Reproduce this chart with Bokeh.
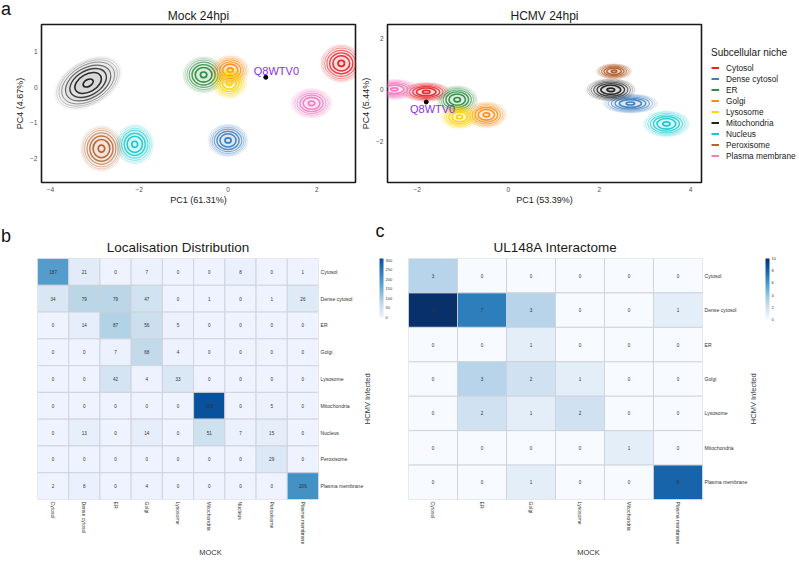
import math
from bokeh.plotting import figure
from bokeh.models import (ColumnDataSource, FactorRange, Range1d, LinearColorMapper, ColorBar,
                          FixedTicker, Legend, LegendItem, Label, CategoricalAxis, Div)
from bokeh.layouts import row, column
from bokeh.palettes import Blues256, Blues5
from bokeh.transform import transform
from bokeh.embed import file_html
from bokeh.resources import INLINE
from bokeh.core.properties import value

FONT = "Liberation Sans"

# ---------------- data ----------------
niches = ["Cytosol", "Dense cytosol", "ER", "Golgi", "Lysosome", "Mitochondria",
          "Nucleus", "Peroxisome", "Plasma membrane"]
niche_colors = ["#E8262A", "#3A7FC1", "#2E8B3F", "#FF8C1A", "#FFD400", "#222222",
                "#17C8D0", "#B4612E", "#F27BC1"]

# Mock 24hpi cluster centres / spreads (PC1, PC4)
mock_cx = [2.55, 0.0, -0.55, 0.05, 0.03, -3.15, -2.1, -2.85, 1.88]
mock_cy = [0.67, -1.49, 0.35, 0.48, 0.12, 0.12, -1.6, -1.72, -0.45]
mock_sx = [0.45, 0.43, 0.45, 0.41, 0.38, 0.77, 0.41, 0.45, 0.45]
mock_sy = [0.51, 0.44, 0.49, 0.40, 0.42, 0.59, 0.54, 0.61, 0.40]
mock_angle = [0, 0, 0, 0, 0, 0.52, 0, 0, 0]
mock_xticks = [-4, -2, 0, 2]
mock_yticks = [-2, -1, 0, 1]
mock_q = (0.85, 0.28)
mock_q_label = (0.58, 0.47)

# HCMV 24hpi cluster centres / spreads
hcmv_cx = [-1.8, 2.68, -1.12, -0.48, -1.07, 2.25, 3.47, 2.32, -2.5]
hcmv_cy = [-0.08, -0.53, -0.38, -0.97, -1.05, 0.0, -1.32, 0.72, 0.02]
hcmv_sx = [0.51, 0.58, 0.43, 0.43, 0.40, 0.52, 0.49, 0.38, 0.50]
hcmv_sy = [0.36, 0.36, 0.52, 0.49, 0.45, 0.42, 0.49, 0.29, 0.38]
hcmv_angle = [0, 0, 0, 0, 0, 0, 0, 0, 0]
hcmv_xticks = [-2, 0, 2, 4]
hcmv_yticks = [-2, 0, 2]
hcmv_q = (-1.8, -0.47)
hcmv_q_label = (-1.66, -0.73)
q_name = "Q8WTV0"

# Localisation distribution (rows: HCMV infected, cols: MOCK)
b_cols = niches
b_rows = niches
b_values = [
    [187, 21, 0, 7, 0, 0, 8, 0, 1],
    [34, 79, 79, 47, 0, 1, 0, 1, 26],
    [0, 14, 87, 56, 5, 0, 0, 0, 0],
    [0, 0, 7, 68, 4, 0, 0, 0, 0],
    [0, 0, 42, 4, 33, 0, 0, 0, 0],
    [0, 0, 0, 0, 0, 309, 0, 5, 0],
    [0, 13, 0, 14, 0, 51, 7, 15, 0],
    [0, 0, 0, 0, 0, 0, 0, 29, 0],
    [2, 8, 0, 4, 0, 0, 0, 0, 206],
]
b_ticks = [0, 50, 100, 150, 200, 250, 300]

# UL148A interactome
c_cols = ["Cytosol", "ER", "Golgi", "Lysosome", "Mitochondria", "Plasma membrane"]
c_rows = ["Cytosol", "Dense cytosol", "ER", "Golgi", "Lysosome", "Mitochondria", "Plasma membrane"]
c_values = [
    [3, 0, 0, 0, 0, 0],
    [10, 7, 3, 0, 0, 1],
    [0, 0, 1, 0, 0, 0],
    [0, 3, 2, 1, 0, 0],
    [0, 2, 1, 2, 0, 0],
    [0, 0, 0, 0, 1, 0],
    [0, 0, 1, 0, 0, 8],
]
c_ticks = [0, 2, 4, 6, 8, 10]
infected_label = "HCMV Infected"
mock_label = "MOCK"

# contour ring styling
ring_scale = [0.16, 0.42, 0.58, 0.72, 0.84, 0.93, 1.0]
ring_alpha = [1.0, 0.95, 0.85, 0.65, 0.45, 0.3, 0.18]
ring_width = [1.7, 1.6, 1.4, 1.2, 1.0, 0.9, 0.8]
glow_scale = [1.08, 0.9, 0.7, 0.45]


def interp(pal, n):
    def h2r(h):
        return [int(h[i:i + 2], 16) for i in (1, 3, 5)]
    cols = [h2r(c) for c in pal]
    out = []
    for k in range(n):
        t = k / (n - 1) * (len(cols) - 1)
        i = min(int(t), len(cols) - 2)
        f = t - i
        rgb = [round(cols[i][j] + (cols[i + 1][j] - cols[i][j]) * f) for j in range(3)]
        out.append("#%02x%02x%02x" % tuple(rgb))
    return out


def letter_div(txt, w, h, top):
    return Div(text=('<div style="font-family:\'Liberation Sans\';font-size:18px;line-height:18px;'
                     'color:#111;position:relative;top:%dpx;left:1px">%s</div>' % (top, txt)),
               width=w, height=h, margin=0)


def no_ticks(ax):
    ax.axis_line_color = None
    ax.major_tick_line_color = None
    ax.minor_tick_line_color = None
    ax.major_tick_out = 0
    ax.major_tick_in = 0
    ax.minor_tick_out = 0
    ax.minor_tick_in = 0


def style_pca(p, xticks, yticks, xlab, ylab):
    p.xaxis.ticker = FixedTicker(ticks=xticks)
    p.yaxis.ticker = FixedTicker(ticks=yticks)
    p.xaxis.axis_label = xlab
    p.yaxis.axis_label = ylab
    for ax in (p.xaxis[0], p.yaxis[0]):
        no_ticks(ax)
        ax.major_label_text_font = FONT
        ax.major_label_text_font_size = "6.5px"
        ax.major_label_text_color = "#4d4d4d"
        ax.axis_label_text_font = FONT
        ax.axis_label_text_font_size = "9px"
        ax.axis_label_text_font_style = "normal"
        ax.axis_label_text_color = "#1a1a1a"
        ax.major_label_standoff = 4
    p.xaxis.axis_label_standoff = 0
    p.yaxis.axis_label_standoff = 2
    p.grid.visible = False
    p.outline_line_color = "#1a1a1a"
    p.outline_line_width = 1.6
    p.title.text_font = FONT
    p.title.text_font_size = "12px"
    p.title.text_font_style = "normal"
    p.title.text_color = "#1a1a1a"
    p.title.align = "center"
    p.title.standoff = 4


def add_contours(p, cx, cy, sx, sy, ang):
    g = dict(x=[], y=[], w=[], h=[], a=[], c=[])
    r = dict(x=[], y=[], w=[], h=[], a=[], c=[], al=[], lw=[])
    for i in range(len(cx)):
        for s in glow_scale:
            g["x"].append(cx[i]); g["y"].append(cy[i])
            g["w"].append(2 * sx[i] * s); g["h"].append(2 * sy[i] * s)
            g["a"].append(ang[i]); g["c"].append(niche_colors[i])
        for s, al, lw in zip(ring_scale, ring_alpha, ring_width):
            r["x"].append(cx[i]); r["y"].append(cy[i])
            r["w"].append(2 * sx[i] * s); r["h"].append(2 * sy[i] * s)
            r["a"].append(ang[i]); r["c"].append(niche_colors[i])
            r["al"].append(al); r["lw"].append(lw)
    p.ellipse(x="x", y="y", width="w", height="h", angle="a", source=ColumnDataSource(g),
              fill_color="c", fill_alpha=0.045, line_color=None)
    p.ellipse(x="x", y="y", width="w", height="h", angle="a", source=ColumnDataSource(r),
              fill_color=None, line_color="c", line_alpha="al", line_width="lw")


def add_query(p, q, ql, align):
    p.scatter(x=[q[0]], y=[q[1]], size=4, color="black")
    p.text(x=[ql[0]], y=[ql[1]], text=[q_name], text_font=value(FONT), text_font_size="11px",
           text_color="#8E2FE0", text_align=align, text_baseline="middle")


# ---------------- panel a ----------------
H1 = 222
pA1 = figure(width=346, height=H1, x_range=Range1d(-4.2, 2.87), y_range=Range1d(-2.67, 1.76),
             min_border_left=26, min_border_right=3, min_border_top=24, min_border_bottom=40,
             title="Mock 24hpi", output_backend="svg", toolbar_location=None)
style_pca(pA1, mock_xticks, mock_yticks, "PC1 (61.31%)", "PC4 (4.67%)")
add_contours(pA1, mock_cx, mock_cy, mock_sx, mock_sy, mock_angle)
add_query(pA1, mock_q, mock_q_label, "left")

pA2 = figure(width=345, height=H1, x_range=Range1d(-2.65, 4.24), y_range=Range1d(-3.6, 2.54),
             min_border_left=25, min_border_right=2, min_border_top=24, min_border_bottom=40,
             title="HCMV 24hpi", output_backend="svg", toolbar_location=None)
style_pca(pA2, hcmv_xticks, hcmv_yticks, "PC1 (53.39%)", "PC4 (5.44%)")
add_contours(pA2, hcmv_cx, hcmv_cy, hcmv_sx, hcmv_sy, hcmv_angle)
add_query(pA2, hcmv_q, hcmv_q_label, "center")

# legend panel (its own small canvas to the right of the HCMV plot)
pL = figure(width=96, height=H1, x_range=Range1d(0, 1), y_range=Range1d(0, 1),
            x_axis_location=None, y_axis_location=None,
            min_border_left=0, min_border_right=0, min_border_top=0, min_border_bottom=0,
            output_backend="svg", toolbar_location=None)
pL.grid.visible = False
pL.outline_line_color = None
items = []
for n, c in zip(niches, niche_colors):
    # legend-only renderer: a single undefined point, nothing is drawn in the plot
    lr = pL.line(x=[float("nan")], y=[float("nan")], line_color=c, line_width=2)
    items.append(LegendItem(label=n, renderers=[lr]))
leg = Legend(items=items, title="Subcellular niche", location=(8, 21),
             title_text_font=FONT, title_text_font_size="10px", title_text_font_style="normal",
             title_text_color="#1a1a1a", title_standoff=4,
             label_text_font=FONT, label_text_font_size="8.3px", label_text_color="#1a1a1a",
             glyph_width=8, glyph_height=11, label_height=11, label_standoff=7, spacing=0,
             padding=0, margin=0, border_line_color=None, background_fill_alpha=0)
pL.add_layout(leg, "center")


# ---------------- heatmaps ----------------
def heatmap(cols, rows, vals, mapper, w, bl, br, bt, bb, title, ticks, cb_h, lab_standoff, mock_x):
    src = dict(x=[], y=[], v=[], t=[])
    for i, rname in enumerate(rows):
        for j, cname in enumerate(cols):
            src["x"].append(cname); src["y"].append(rname)
            src["v"].append(vals[i][j]); src["t"].append(str(vals[i][j]))
    p = figure(width=w, height=340, x_range=FactorRange(*cols), y_range=FactorRange(*reversed(rows)),
               y_axis_location="right", min_border_left=bl, min_border_right=br,
               min_border_top=bt, min_border_bottom=bb, title=title,
               output_backend="svg", toolbar_location=None)
    s = ColumnDataSource(src)
    p.rect(x="x", y="y", width=1, height=1, source=s, fill_color=transform("v", mapper),
           line_color="#cdd1da", line_width=0.9)
    p.text(x="x", y="y", text="t", source=s, text_font=value(FONT), text_font_size="4.6px",
           text_color="#333333", text_align="center", text_baseline="middle")
    p.grid.visible = False
    p.outline_line_color = None
    for ax in (p.xaxis[0], p.yaxis[0]):
        no_ticks(ax)
        ax.major_label_text_font = FONT
        ax.major_label_text_font_size = "5.1px"
        ax.major_label_text_color = "#333333"
        ax.major_label_standoff = 2
    p.xaxis.major_label_orientation = -math.pi / 2
    # x-axis title, placed (as in the original) right of the frame centre
    p.add_layout(Label(x=mock_x, y=4.3, x_units="screen", y_units="screen", text=mock_label,
                       text_font=FONT, text_font_size="7.5px", text_color="#333333",
                       text_align="center", text_baseline="middle"), "below")
    p.title.text_font = FONT
    p.title.text_font_size = "13.5px"
    p.title.text_font_style = "normal"
    p.title.text_color = "#1a1a1a"
    p.title.align = "center"
    p.title.standoff = 7
    # "HCMV Infected" as the single visible factor of an auxiliary right axis
    aux_factors = [" ", "  ", infected_label, "   ", "    ", "     ", "      ", "       "]
    p.extra_y_ranges = {"aux": FactorRange(factors=aux_factors)}
    aux = CategoricalAxis(y_range_name="aux",
                          major_label_orientation=math.pi / 2, major_label_standoff=lab_standoff,
                          major_label_text_font=FONT, major_label_text_font_size="7.5px",
                          major_label_text_color="#333333")
    no_ticks(aux)
    p.add_layout(aux, "right")
    cb = ColorBar(color_mapper=mapper, ticker=FixedTicker(ticks=ticks), width=4, height=cb_h,
                  padding=0, margin=0, label_standoff=2, major_label_text_font=FONT,
                  major_label_text_font_size="4px", major_label_text_color="#333333",
                  major_tick_line_color=None, major_tick_in=0, major_tick_out=0,
                  bar_line_color=None, border_line_color=None,
                  background_fill_alpha=0, location="top_left")
    p.add_layout(cb, "right")
    return p


mapB = LinearColorMapper(palette=interp(list(Blues5[::-1]), 256), low=0, high=309)
pB = heatmap(b_cols, b_rows, b_values, mapB, 383, 25, 76, 36, 63, "Localisation Distribution",
             b_ticks, 59, 1, 173)
pB.add_layout(Label(x=347, y=259, x_units="screen", y_units="screen", text="c",
                    text_font=FONT, text_font_size="18px", text_color="#111"), "left")

mapC = LinearColorMapper(palette=list(Blues256[::-1]), low=0, high=10)
pC = heatmap(c_cols, c_rows, c_values, mapC, 404, 13, 97, 35, 55, "UL148A Interactome",
             c_ticks, 61, 3, 180)

divA = letter_div("a", 12, H1, 0)
divB = letter_div("b", 12, 340, 5)

layout = column(row(divA, pA1, pA2, pL), row(divB, pB, pC))
open("out.html", "w").write(file_html(layout, INLINE))
